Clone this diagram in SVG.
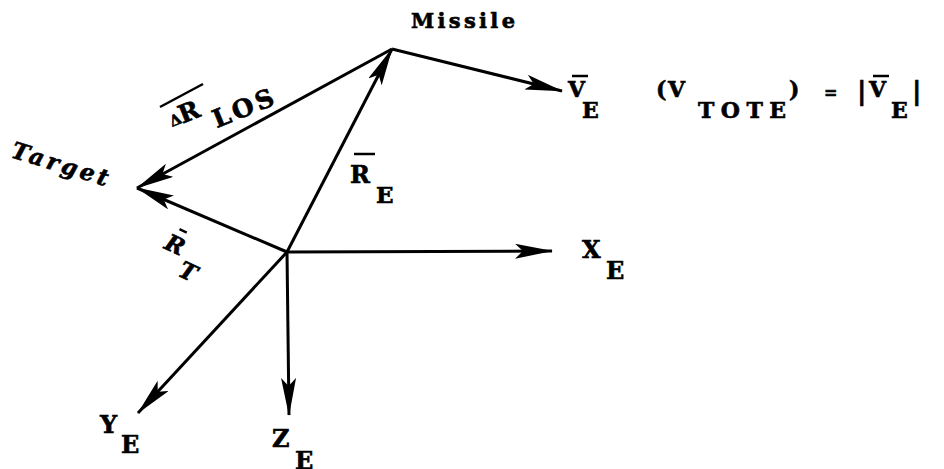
<svg xmlns="http://www.w3.org/2000/svg" width="944" height="469" viewBox="0 0 944 469">
<style>
.ln{stroke:#000;stroke-width:3;fill:none;marker-end:url(#ah)}
.t{font-family:"DejaVu Serif","Liberation Serif",serif;font-weight:bold;fill:#000;stroke:#000;stroke-width:0.6}
.it{font-style:italic}
.bar{stroke:#000;stroke-width:2.5}
</style>
<defs>
<marker id="ah" viewBox="0 0 38 15" refX="37" refY="7.5" markerWidth="38" markerHeight="15" orient="auto" markerUnits="userSpaceOnUse">
<path d="M0,0 L38,7.5 L0,15 L8,7.5 Z" fill="#000"/>
</marker>
</defs>
<rect width="944" height="469" fill="#fff"/>
<g id="connectors">
<line class="ln" x1="287" y1="252" x2="552" y2="251"/>
<line class="ln" x1="287" y1="252" x2="289" y2="415"/>
<line class="ln" x1="287" y1="252" x2="138" y2="413"/>
<line class="ln" x1="287" y1="252" x2="137" y2="188"/>
<line class="ln" x1="287" y1="252" x2="392" y2="49"/>
<line class="ln" x1="392" y1="49" x2="137" y2="188"/>
<line class="ln" x1="392" y1="49" x2="562" y2="91"/>
</g>
<g id="missile">
<text class="t" x="411" y="28" font-size="21" textLength="104" lengthAdjust="spacing">Missile</text>
</g>
<g id="target">
<text class="t it" x="10" y="157" font-size="23" textLength="100" lengthAdjust="spacing" transform="rotate(17 10 157)">Target</text>
</g>
<g id="delta-r-los">
<line class="bar" x1="160" y1="107" x2="203" y2="84"/>
<g transform="translate(172,127) rotate(-22)">
<text class="t" x="0" y="0" font-size="15">Δ</text>
<text class="t" x="11" y="1" font-size="25">R</text>
<text class="t" x="41" y="18" font-size="25" textLength="64" lengthAdjust="spacing">LOS</text>
</g>
</g>
<g id="r-e">
<line class="bar" x1="354" y1="154" x2="375" y2="154"/>
<text class="t" x="350" y="183" font-size="24">R</text>
<text class="t" x="376" y="203" font-size="23">E</text>
</g>
<g id="r-t">
<g transform="translate(163,248) rotate(25)">
<line class="bar" x1="7" y1="-24" x2="15" y2="-24"/>
<text class="t it" x="0" y="0" font-size="23">R</text>
<text class="t it" x="24" y="19" font-size="23">T</text>
</g>
</g>
<g id="v-e">
<line class="bar" x1="572" y1="76" x2="588" y2="76"/>
<text class="t" x="568" y="97" font-size="22">V</text>
<text class="t" x="582" y="118" font-size="22">E</text>
<text class="t" x="656" y="97" font-size="22">(</text>
<text class="t" x="668" y="97" font-size="22">V</text>
<text class="t" x="698" y="118" font-size="22" textLength="88" lengthAdjust="spacing">TOTE</text>
<text class="t" x="789" y="97" font-size="22">)</text>
<text class="t" x="824" y="98" font-size="16">=</text>
<text class="t" x="857" y="100" font-size="26">|</text>
<line class="bar" x1="873" y1="76" x2="889" y2="76"/>
<text class="t" x="869" y="97" font-size="22">V</text>
<text class="t" x="891" y="118" font-size="22">E</text>
<text class="t" x="912" y="100" font-size="26">|</text>
</g>
<g id="x-e">
<text class="t" x="582" y="258" font-size="24">X</text>
<text class="t" x="606" y="279" font-size="24">E</text>
</g>
<g id="y-e">
<text class="t" x="100" y="433" font-size="24">Y</text>
<text class="t" x="121" y="453" font-size="24">E</text>
</g>
<g id="z-e">
<text class="t" x="272" y="447" font-size="24">Z</text>
<text class="t" x="295" y="469" font-size="24">E</text>
</g>
</svg>
